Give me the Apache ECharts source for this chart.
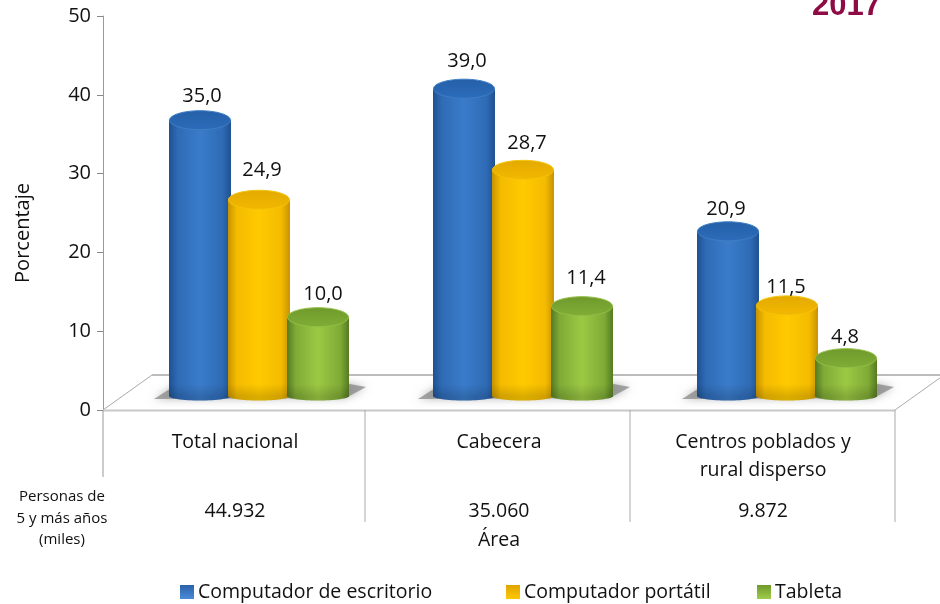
<!DOCTYPE html>
<html>
<head>
<meta charset="utf-8">
<style>html,body{margin:0;padding:0;background:#fff}#c{width:940px;height:604px}</style>
<script src="https://cdn.jsdelivr.net/npm/echarts@6/dist/echarts.min.js"></script>
</head>
<body>
<div id="c"></div>
<script>
const categories = ['Total nacional', 'Cabecera', 'Centros poblados y\nrural disperso'];
const population = ['44.932', '35.060', '9.872'];
const escritorio = [35.0, 39.0, 20.9];
const portatil = [24.9, 28.7, 11.5];
const tableta = [10.0, 11.4, 4.8];
const yTicks = [0, 10, 20, 30, 40, 50];

const FONT = '"Open Sans", sans-serif';
const TXT = '#111';
const DX = 24, DY = 14;           // 3D offset of the bars over the floor
const BW = 62, STEP = 59;         // cylinder width and spacing

// small hand nudges of the data labels [dx, dy] as in the original
const labelNudge = {
  escritorio: [[2, -24], [3, -27], [-2, -22]],
  portatil: [[3, -29], [4, -27], [-1, -18]],
  tableta: [[5, -23], [4, -28], [-1, -21]]
};

function fmt(v) { return v.toFixed(1).replace('.', ','); }
function hGrad(edge, mid, soft) {
  return { type: 'linear', x: 0, y: 0, x2: 1, y2: 0, colorStops: [
    { offset: 0, color: edge }, { offset: 0.14, color: soft },
    { offset: 0.5, color: mid },
    { offset: 0.86, color: soft }, { offset: 1, color: edge }] };
}
function vGrad(a, b) {
  return { type: 'linear', x: 0, y: 0, x2: 0, y2: 1, colorStops: [
    { offset: 0, color: a }, { offset: 1, color: b }] };
}

function cylinder(slot, nudges, edge, mid, soft, topA, topB, rim) {
  return function (params, api) {
    const i = params.dataIndex;
    const v = api.value(1);
    const top = api.coord([i, v]);
    const base = api.coord([i, 0]);
    const cx = top[0] + DX + slot * STEP;
    const yTop = top[1] - DY;
    const yBase = base[1] - DY;
    const rx = BW / 2;
    const nudge = nudges[i];
    const body = hGrad(edge, mid, soft);
    return { type: 'group', children: [
      { type: 'ellipse', shape: { cx: cx, cy: yBase, rx: rx, ry: 4.5 }, style: { fill: body } },
      { type: 'ellipse', shape: { cx: cx, cy: yBase, rx: rx, ry: 4.5 }, style: { fill: 'rgba(0,0,0,0.14)' } },
      { type: 'rect', shape: { x: cx - rx, y: yTop, width: BW, height: yBase - yTop }, style: { fill: body } },
      { type: 'rect', shape: { x: cx - rx, y: yBase - 12, width: BW, height: 12 }, style: { fill: vGrad('rgba(0,0,0,0)', 'rgba(0,0,0,0.14)') } },
      { type: 'ellipse', shape: { cx: cx, cy: yTop, rx: rx - 0.5, ry: 9.5 }, style: { fill: vGrad(topA, topB), stroke: rim, lineWidth: 1 } },
      { type: 'text', x: cx + nudge[0], y: yTop + nudge[1], style: {
        text: fmt(v), fill: TXT, font: '20px ' + FONT, align: 'center', verticalAlign: 'middle' }, z2: 50 }
    ] };
  };
}

function frame(params, api) {
  const p0 = api.coord([0, 0]);
  const band = api.size([1, 0])[0];
  const left = p0[0] - band / 2;
  const y = p0[1];
  const right = left + band * 3;
  const lineEl = (x1, y1, x2, y2, w, c) => ({ type: 'line', shape: { x1, y1, x2, y2 }, style: { stroke: c, lineWidth: w } });
  const children = [
    { type: 'polygon', shape: { points: [[left, y], [left + 49, y - 35], [right + 49, y - 35], [right, y]] }, style: { fill: '#fff' } },
    lineEl(left + 49, y - 35, right + 49, y - 35, 2, '#bcbcbc'),
    lineEl(left, y, left + 49, y - 35, 1, '#aaa'),
    lineEl(right, y, right + 49, y - 35, 1, '#aaa'),
    lineEl(left, y + 0.5, right, y + 0.5, 2, '#c8c8c8'),
    lineEl(left, y, left, y + 67, 1, '#999'),
    lineEl(left + band - 2, y, left + band - 2, y + 112, 1, '#aaa'),
    lineEl(left + band * 2 - 1, y, left + band * 2 - 1, y + 112, 1, '#aaa'),
    lineEl(right, y, right, y + 112, 1, '#aaa')
  ];
  for (let k = 0; k < 3; k++) {
    const c = left + band * k + band / 2 + DX;
    children.push({
      type: 'polygon',
      shape: { points: [[c - 105, y - 11], [c + 87, y - 12], [c + 107, y - 23], [c + 80, y - 28], [c - 80, y - 27]] },
      style: { fill: 'rgba(130,130,130,0.7)', shadowBlur: 9, shadowColor: 'rgba(120,120,120,0.75)' }
    });
  }
  return { type: 'group', children: children };
}

const legendCommon = { top: 582, padding: 0, icon: 'rect', itemWidth: 14, itemHeight: 14, itemGap: 0, selectedMode: false,
  textStyle: { fontSize: 19.5, color: TXT, padding: [0, 0, 0, -1] } };

const option = {
  animation: false,
  backgroundColor: '#fff',
  textStyle: { fontFamily: FONT },
  grid: { left: 103, right: 45, top: 16, bottom: 194 },
  title: [
    { text: '2017', left: 812, top: -9.5, padding: 0, textStyle: { fontFamily: '"Liberation Sans", Arial, sans-serif', fontWeight: 'bold', fontSize: 31, color: '#8e0b46' } },
    { text: 'Personas de\n5 y más años\n(miles)', left: 62, top: 486, padding: 0, textAlign: 'center',
      textStyle: { fontFamily: FONT, fontWeight: 'normal', fontSize: 15, lineHeight: 21.5, color: TXT } }
  ],
  graphic: [
    { type: 'text', x: 23, y: 233, rotation: Math.PI / 2, style: { text: 'Porcentaje', fill: TXT, font: '20px ' + FONT, align: 'center', verticalAlign: 'middle' } }
  ],
  xAxis: [
    { type: 'category', data: categories, position: 'bottom',
      axisLine: { show: false }, axisTick: { show: false },
      axisLabel: { fontSize: 19.5, color: TXT, margin: 18, lineHeight: 28, verticalAlign: 'top', interval: 0 } },
    { type: 'category', data: population, position: 'bottom', offset: 101,
      axisLine: { show: false }, axisTick: { show: false },
      name: 'Área', nameLocation: 'middle', nameGap: 19,
      nameTextStyle: { fontSize: 19.5, color: TXT },
      axisLabel: { fontSize: 19.5, color: TXT, margin: 0, verticalAlign: 'middle', lineHeight: 22, interval: 0 } }
  ],
  yAxis: {
    type: 'value', min: yTicks[0], max: yTicks[yTicks.length - 1], interval: 10,
    splitLine: { show: false },
    axisLine: { show: true, lineStyle: { color: '#999', width: 1 } },
    axisTick: { show: true, length: 6, lineStyle: { color: '#888' } },
    axisLabel: { fontSize: 20, color: TXT, margin: 12 }
  },
  legend: [
    Object.assign({}, legendCommon, { left: 180,
      data: [{ name: 'Computador de escritorio', itemStyle: { color: vGrad('#2b62a8', '#4a8ad8') } }] }),
    Object.assign({}, legendCommon, { left: 506,
      data: [{ name: 'Computador portátil', itemStyle: { color: vGrad('#e0a400', '#ffc800') } }] }),
    Object.assign({}, legendCommon, { left: 757,
      data: [{ name: 'Tableta', itemStyle: { color: vGrad('#6f9a2c', '#a0cc4a') } }] })
  ],
  series: [
    { type: 'custom', name: 'frame', silent: true, z: 1, renderItem: frame, data: [[0, 0]], encode: { x: 0, y: 1 } },
    { type: 'custom', name: 'Computador de escritorio', z: 2,
      renderItem: cylinder(-1, labelNudge.escritorio, '#1f5190', '#3a7cca', '#2f6bb6', '#2560a8', '#2c6cba', '#3f7ec4'),
      data: escritorio.map((v, i) => [i, v]), encode: { x: 0, y: 1 } },
    { type: 'custom', name: 'Computador portátil', z: 3,
      renderItem: cylinder(0, labelNudge.portatil, '#c79300', '#ffca00', '#f4bb00', '#e3aa00', '#f2b800', '#f6c40a'),
      data: portatil.map((v, i) => [i, v]), encode: { x: 0, y: 1 } },
    { type: 'custom', name: 'Tableta', z: 4,
      renderItem: cylinder(1, labelNudge.tableta, '#557a22', '#9cc944', '#7fab36', '#6f9a2c', '#80ad36', '#93bf45'),
      data: tableta.map((v, i) => [i, v]), encode: { x: 0, y: 1 } }
  ]
};

const chart = echarts.init(document.getElementById('c'), null, { renderer: 'canvas' });
chart.setOption(option);
</script>
</body>
</html>
